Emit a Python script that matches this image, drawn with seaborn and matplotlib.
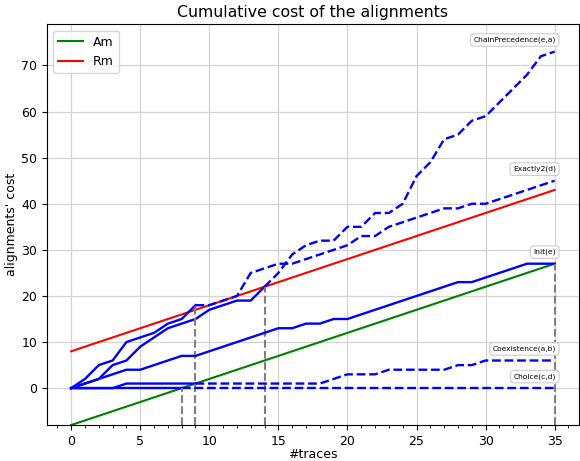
import matplotlib
matplotlib.use("Agg")
import matplotlib.pyplot as plt
import seaborn as sns

# x axis: number of traces
traces = list(range(36))

# cumulative cost of each constraint
chain_prec = [0, 1, 2, 5, 6, 9, 11, 13, 14, 15, 17, 18, 19, 19, 22, 25, 29, 31, 32, 32,
              35, 35, 38, 38, 40, 46, 49, 54, 55, 58, 59, 62, 65, 68, 72, 73]
exactly2 = [0, 2, 5, 6, 10, 11, 12, 14, 15, 18, 18, 19, 20, 25, 26, 27, 27, 28, 29, 30,
            31, 33, 33, 35, 36, 37, 38, 39, 39, 40, 40, 41, 42, 43, 44, 45]
init = [0, 1, 2, 3, 4, 4, 5, 6, 7, 7, 8, 9, 10, 11, 12, 13, 13, 14, 14, 15,
        15, 16, 17, 18, 19, 20, 21, 22, 23, 23, 24, 25, 26, 27, 27, 27]
coexistence = [0, 0, 0, 0, 1, 1, 1, 1, 1, 1, 1, 1, 1, 1, 1, 1, 1, 1, 1, 2,
               3, 3, 3, 4, 4, 4, 4, 4, 5, 5, 6, 6, 6, 6, 6, 6]
choice = [0] * 36

names = ["ChainPrecedence(e,a)", "Exactly2(d)", "Init(e)", "Coexistence(a,b)", "Choice(c,d)"]
series = [chain_prec, exactly2, init, coexistence, choice]
# trace index where the line leaves the [Am, Rm] band
switch_at = [14, 9, 35, 9, 8]

# Am / Rm reference lines (end points)
am_x = [0, 35]
am_y = [-8, 27]
rm_x = [0, 35]
rm_y = [8, 43]

fig, ax = plt.subplots(figsize=(5.8, 4.61), dpi=100)
fig.subplots_adjust(left=0.081, right=0.998, bottom=0.078, top=0.947)

sns.lineplot(x=am_x, y=am_y, color="green", linewidth=1.5, label="Am", ax=ax)
sns.lineplot(x=rm_x, y=rm_y, color="red", linewidth=1.5, label="Rm", ax=ax)

for name, vals, k in zip(names, series, switch_at):
    sns.lineplot(x=traces[:k + 1], y=vals[:k + 1], color="blue", linewidth=1.7, ax=ax)
    if k < len(traces) - 1:
        sns.lineplot(x=traces[k:], y=vals[k:], color="blue", linewidth=1.7,
                     linestyle="--", ax=ax)
    ax.vlines(traces[k], -8, vals[k], colors="gray", linestyles="--", linewidth=1.5)
    ax.annotate(name, xy=(traces[-1], vals[-1]), xytext=(1, 6), textcoords="offset points",
                ha="right", va="bottom", fontsize=5.4,
                bbox=dict(boxstyle="round,pad=0.4", fc="white", ec="#cccccc", lw=0.8))

ax.set_xlim(-1.75, 36.75)
ax.set_ylim(-8, 78.9)
ax.set_xticks(range(0, 36, 5))
ax.set_xticks(range(-1, 37), minor=True)
ax.set_yticks(range(0, 71, 10))
ax.grid(True, which="major", color="#d3d3d3", linewidth=0.9)
ax.set_axisbelow(True)
ax.tick_params(labelsize=9)
ax.set_xlabel("#traces", fontsize=9, labelpad=0.5)
ax.set_ylabel("alignments' cost", fontsize=9, labelpad=2)
ax.set_title("Cumulative cost of the alignments", fontsize=11.3, pad=5)
ax.legend(loc="upper left", fontsize=9)

fig.savefig("out.png", dpi=100)
